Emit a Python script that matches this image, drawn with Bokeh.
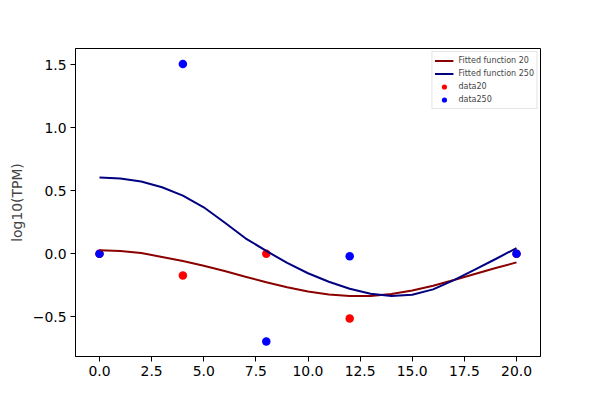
from bokeh.plotting import figure
from bokeh.models import Range1d, FixedTicker, Legend, LegendItem
from bokeh.embed import file_html
from bokeh.resources import INLINE

# data points
time_points = [0, 4, 8, 12, 20]
data20 = [0.0, -0.172, 0.0, -0.513, 0.0]
data250 = [0.0, 1.505, -0.696, -0.021, 0.0]

# fitted curves
fit_x = list(range(0, 21))
fit20 = [0.028, 0.022, 0.006, -0.026, -0.058, -0.095, -0.137, -0.182, -0.226, -0.266,
         -0.300, -0.323, -0.336, -0.335, -0.320, -0.292, -0.254, -0.209, -0.161, -0.114, -0.069]
fit250 = [0.605, 0.597, 0.572, 0.527, 0.460, 0.368, 0.247, 0.122, 0.022, -0.073,
          -0.155, -0.222, -0.278, -0.318, -0.336, -0.326, -0.283, -0.209, -0.127, -0.042, 0.045]

x_ticks = [0, 2.5, 5, 7.5, 10, 12.5, 15, 17.5, 20]
y_ticks = [-0.5, 0.0, 0.5, 1.0, 1.5]

FONT = "DejaVu Sans"

p = figure(width=600, height=400, output_backend="svg", toolbar_location=None,
           x_range=Range1d(-1.15, 21.15), y_range=Range1d(-0.815, 1.627),
           min_border_left=75, min_border_right=60, min_border_top=48, min_border_bottom=44)
p.outline_line_color = "black"
p.outline_line_width = 1
p.xgrid.visible = False
p.ygrid.visible = False
p.background_fill_color = "white"
p.border_fill_color = "white"

for ax in (p.xaxis[0], p.yaxis[0]):
    ax.axis_line_color = "black"
    ax.major_tick_line_color = "black"
    ax.major_tick_out = 5
    ax.major_tick_in = 0
    ax.minor_tick_line_color = None
    ax.major_label_text_font = FONT
    ax.major_label_text_font_size = "13.9px"
    ax.major_label_text_color = "black"
    ax.major_label_standoff = 4

p.xaxis.ticker = FixedTicker(ticks=x_ticks)
p.yaxis.ticker = FixedTicker(ticks=y_ticks)
p.xaxis.major_label_overrides = {t: ("%.1f" % t) for t in x_ticks}
p.yaxis.major_label_overrides = {t: ("%.1f" % t).replace("-", "\u2212") for t in y_ticks}

p.yaxis.axis_label = "log10(TPM)"
p.yaxis.axis_label_text_font = FONT
p.yaxis.axis_label_text_font_size = "13.9px"
p.yaxis.axis_label_text_font_style = "normal"
p.yaxis.axis_label_standoff = 5

s20 = p.scatter(time_points, data20, size=8.5, color="red", line_color=None)
s250 = p.scatter(time_points, data250, size=8.5, color="blue", line_color=None)
l20 = p.line(fit_x, fit20, line_color="#8b0000", line_width=2)
l250 = p.line(fit_x, fit250, line_color="#000080", line_width=2)

legend = Legend(items=[
    LegendItem(label="Fitted function 20", renderers=[l20]),
    LegendItem(label="Fitted function 250", renderers=[l250]),
    LegendItem(label="data20", renderers=[s20]),
    LegendItem(label="data250", renderers=[s250]),
], location="top_right")
legend.label_text_font = FONT
legend.label_text_font_size = "8px"
legend.label_height = 13
legend.glyph_height = 13
legend.glyph_width = 19
legend.label_standoff = 5
legend.spacing = 0
legend.padding = 2
legend.margin = 3
legend.border_line_color = "#cccccc"
legend.border_line_width = 1
legend.background_fill_alpha = 0.8
p.add_layout(legend)

open("out.html", "w").write(file_html(p, INLINE))
